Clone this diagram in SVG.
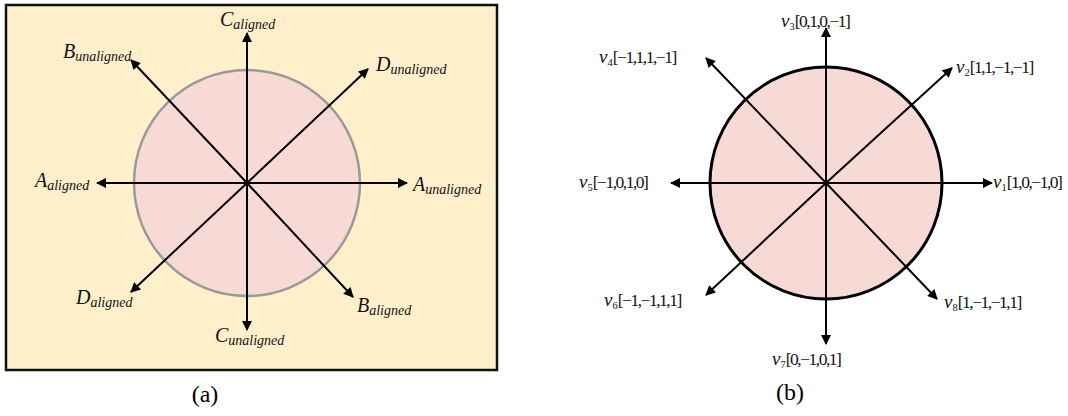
<svg xmlns="http://www.w3.org/2000/svg" width="1068" height="416" viewBox="0 0 1068 416">
<style>
.ax{stroke:#000;stroke-width:2;fill:none;marker-end:url(#ah)}
.la{font-family:"Liberation Serif","Times New Roman",Times,serif;font-style:italic;font-size:20px;fill:#111}
.sub{font-size:14px}
.lb{font-family:"Liberation Serif","Times New Roman",Times,serif;font-size:17.5px;fill:#111}
.vb{font-style:italic;font-size:19px}
.sb{font-size:10.5px}
.br{letter-spacing:-1.5px}
.cap{font-family:"Liberation Serif","Times New Roman",Times,serif;font-size:24px;fill:#000;text-anchor:middle}
</style>
<defs>
<marker id="ah" viewBox="0 0 10 10" refX="9" refY="5" markerWidth="5.5" markerHeight="5" orient="auto" markerUnits="strokeWidth">
<path d="M0,0 L10,5 L0,10 z" fill="#000"/>
</marker>
</defs>
<rect width="1068" height="416" fill="#fff"/>
<g id="panelA">
<rect x="6" y="5" width="491" height="365" fill="#FFF0CB" stroke="#111" stroke-width="2.5"/>
<circle id="circleA" cx="247" cy="183" r="113" fill="#F7DAD5" stroke="#999" stroke-width="2.5"/>
</g>
<g id="connectorsA">
<line class="ax" x1="247" y1="183" x2="247" y2="33"/>
<line class="ax" x1="247" y1="183" x2="97" y2="183"/>
<line class="ax" x1="247" y1="183" x2="407" y2="183"/>
<line class="ax" x1="247" y1="183" x2="247" y2="330"/>
<line class="ax" x1="247" y1="183" x2="131" y2="60"/>
<line class="ax" x1="247" y1="183" x2="368" y2="69"/>
<line class="ax" x1="247" y1="183" x2="131" y2="292"/>
<line class="ax" x1="247" y1="183" x2="353" y2="297"/>
</g>
<g id="labelsA">
<text id="Caligned" class="la" x="220" y="26">C<tspan class="sub" dy="3">aligned</tspan></text>
<text id="Bunaligned" class="la" x="63" y="58">B<tspan class="sub" dy="3">unaligned</tspan></text>
<text id="Dunaligned" class="la" x="376" y="71">D<tspan class="sub" dy="3">unaligned</tspan></text>
<text id="Aaligned" class="la" x="35" y="187">A<tspan class="sub" dy="3">aligned</tspan></text>
<text id="Aunaligned" class="la" x="413" y="191">A<tspan class="sub" dy="3">unaligned</tspan></text>
<text id="Daligned" class="la" x="76" y="304">D<tspan class="sub" dy="3">aligned</tspan></text>
<text id="Baligned" class="la" x="357" y="312">B<tspan class="sub" dy="3">aligned</tspan></text>
<text id="Cunaligned" class="la" x="215" y="342">C<tspan class="sub" dy="3">unaligned</tspan></text>
<text class="cap" x="205" y="402">(a)</text>
</g>
<g id="panelB">
<circle id="circleB" cx="826" cy="183" r="116" fill="#F7DAD5" stroke="#000" stroke-width="3"/>
</g>
<g id="connectorsB">
<line class="ax" x1="826" y1="183" x2="826" y2="28"/>
<line class="ax" x1="826" y1="183" x2="671" y2="183"/>
<line class="ax" x1="826" y1="183" x2="992" y2="183"/>
<line class="ax" x1="826" y1="183" x2="826" y2="344"/>
<line class="ax" x1="826" y1="183" x2="706" y2="58"/>
<line class="ax" x1="826" y1="183" x2="952" y2="68"/>
<line class="ax" x1="826" y1="183" x2="706" y2="295"/>
<line class="ax" x1="826" y1="183" x2="937" y2="299"/>
</g>
<g id="labelsB">
<text id="v3" class="lb" x="781" y="27"><tspan class="vb">v</tspan><tspan class="sb" dy="3">3</tspan><tspan class="br" dy="-3">[0,1,0,−1]</tspan></text>
<text id="v4" class="lb" x="599" y="63"><tspan class="vb">v</tspan><tspan class="sb" dy="3">4</tspan><tspan class="br" dy="-3">[−1,1,1,−1]</tspan></text>
<text id="v2" class="lb" x="956" y="73"><tspan class="vb">v</tspan><tspan class="sb" dy="3">2</tspan><tspan class="br" dy="-3">[1,1,−1,−1]</tspan></text>
<text id="v5" class="lb" x="579" y="188"><tspan class="vb">v</tspan><tspan class="sb" dy="3">5</tspan><tspan class="br" dy="-3">[−1,0,1,0]</tspan></text>
<text id="v1" class="lb" x="993" y="188"><tspan class="vb">v</tspan><tspan class="sb" dy="3">1</tspan><tspan class="br" dy="-3">[1,0,−1,0]</tspan></text>
<text id="v6" class="lb" x="604" y="306"><tspan class="vb">v</tspan><tspan class="sb" dy="3">6</tspan><tspan class="br" dy="-3">[−1,−1,1,1]</tspan></text>
<text id="v8" class="lb" x="944" y="308"><tspan class="vb">v</tspan><tspan class="sb" dy="3">8</tspan><tspan class="br" dy="-3">[1,−1,−1,1]</tspan></text>
<text id="v7" class="lb" x="772" y="365"><tspan class="vb">v</tspan><tspan class="sb" dy="3">7</tspan><tspan class="br" dy="-3">[0,−1,0,1]</tspan></text>
<text class="cap" x="790" y="400">(b)</text>
</g>
</svg>
